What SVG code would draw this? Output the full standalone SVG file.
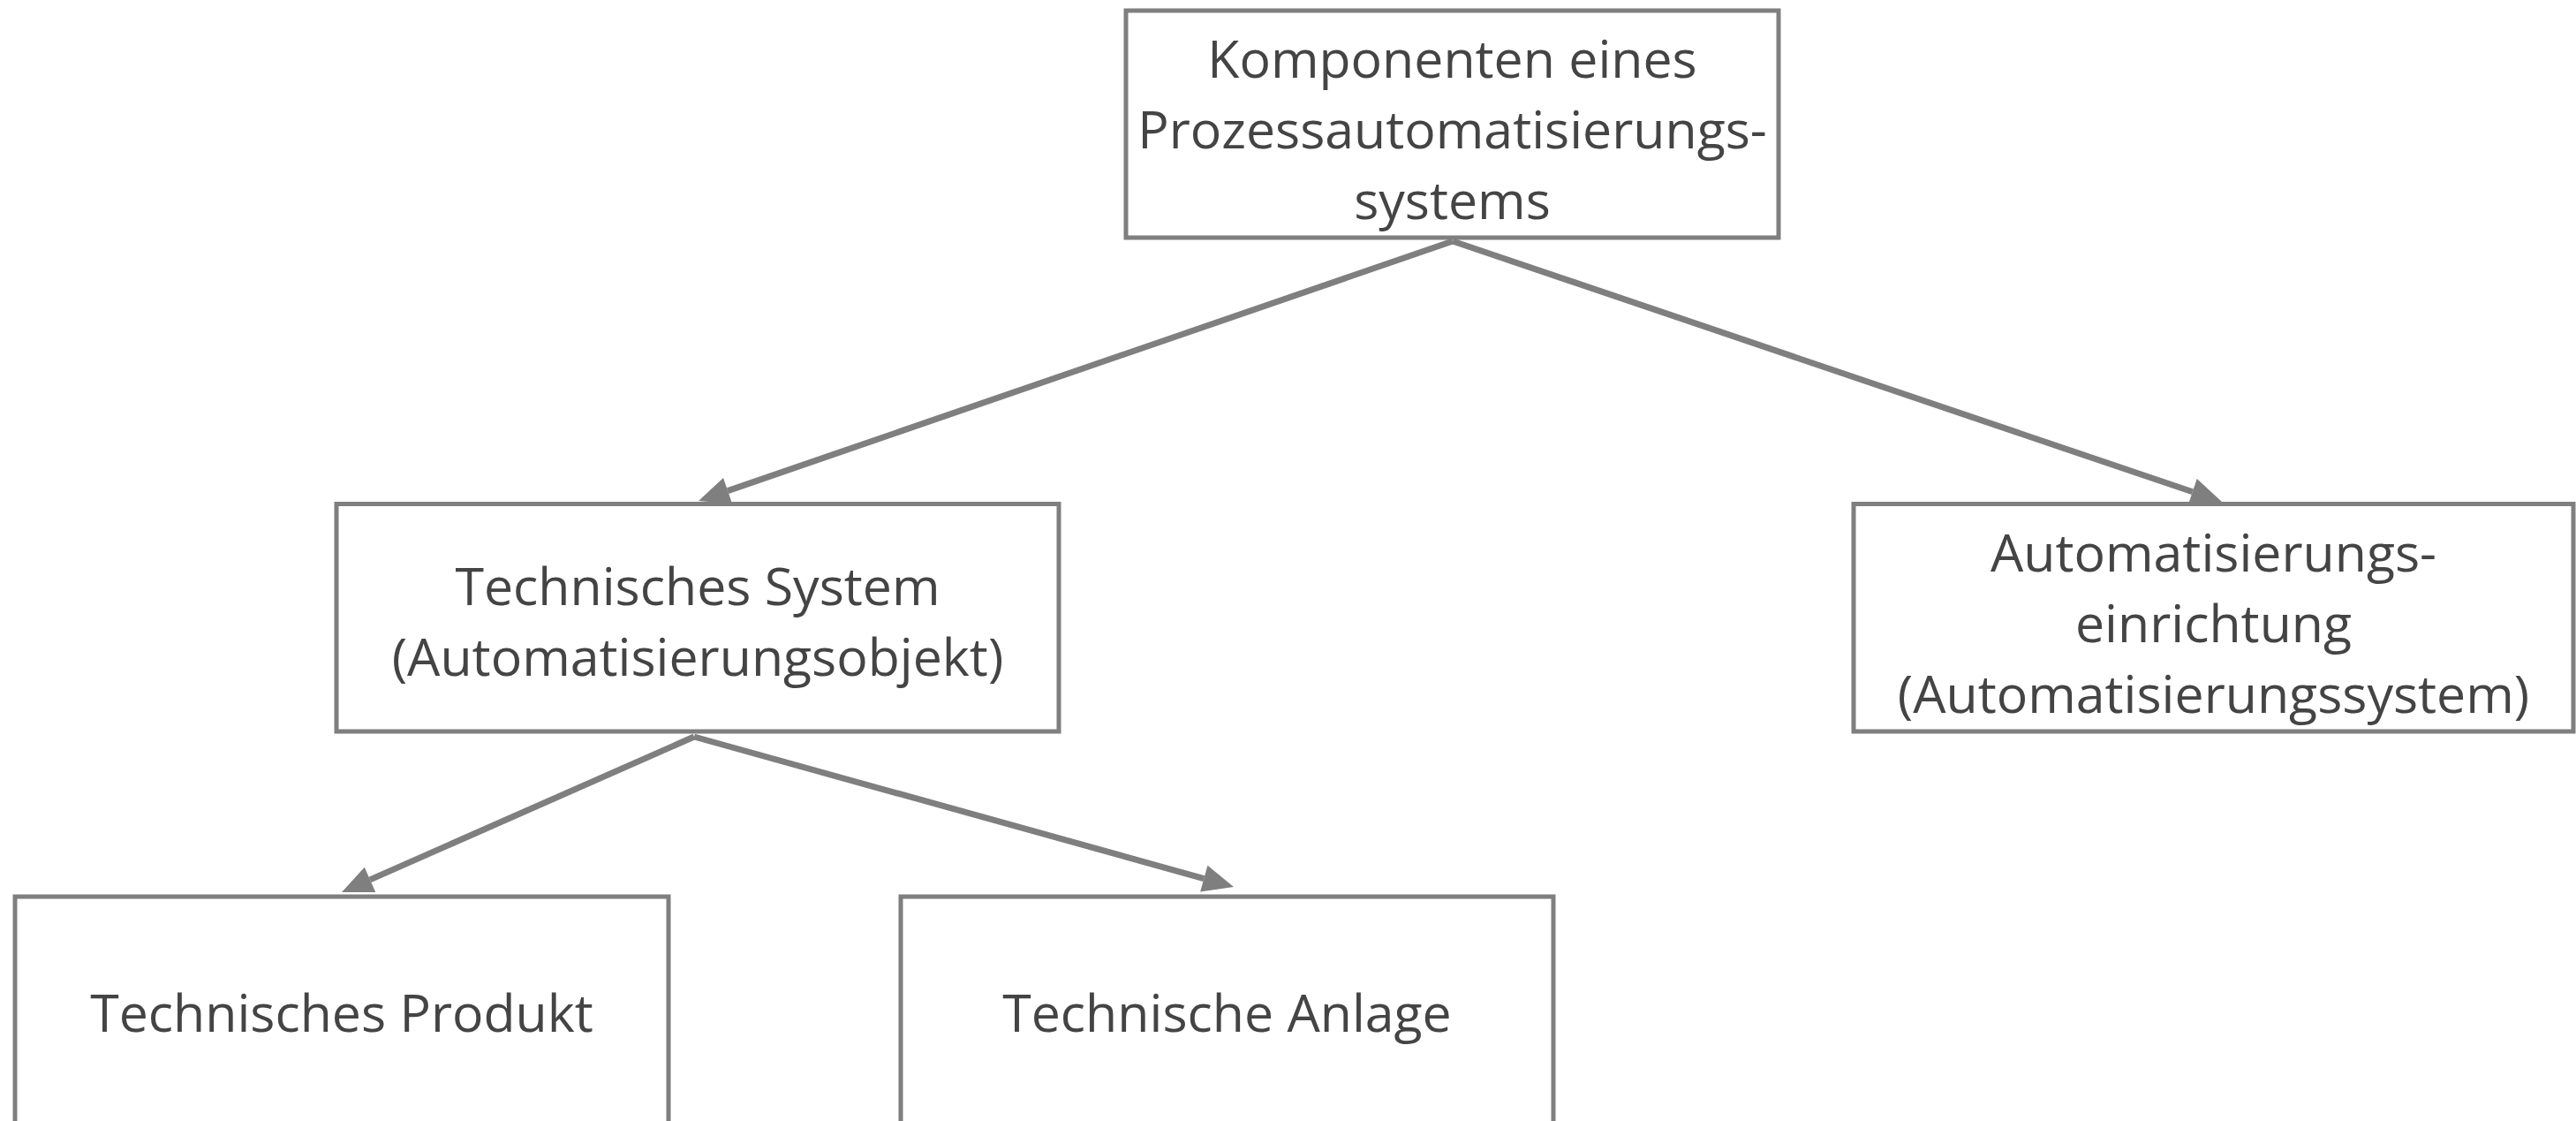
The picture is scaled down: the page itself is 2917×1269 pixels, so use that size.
<svg xmlns="http://www.w3.org/2000/svg" width="2917" height="1269" viewBox="0 0 2917 1269">
<style>
.box{fill:#ffffff;stroke:#7f7f7f;stroke-width:5}
.lbl{font-family:"Open Sans","Noto Sans","Liberation Sans",sans-serif;font-size:59px;fill:#444444;text-anchor:middle}
.conn{fill:none;stroke:#7f7f7f;stroke-width:7}
</style>
<defs>
<marker id="arr" markerUnits="userSpaceOnUse" markerWidth="36" markerHeight="32" refX="0" refY="15.5" orient="auto" overflow="visible">
<path d="M0,0 L35,15.5 L0,31 z" fill="#7f7f7f"/>
</marker>
</defs>
<rect width="2917" height="1269" fill="#ffffff"/>
<g id="connectors">
<path class="conn" d="M1645,273 L824.1,555.6" marker-end="url(#arr)"/>
<path class="conn" d="M1645,273 L2482.8,556.8" marker-end="url(#arr)"/>
<path class="conn" d="M786,834 L419,995.9" marker-end="url(#arr)"/>
<path class="conn" d="M786,834 L1363.3,994.6" marker-end="url(#arr)"/>
</g>
<g id="node-komponenten">
<rect class="box" x="1275" y="12" width="739" height="257"/>
<text class="lbl" x="1644.5" y="88">Komponenten eines</text>
<text class="lbl" x="1644.5" y="168">Prozessautomatisierungs-</text>
<text class="lbl" x="1644.5" y="248">systems</text>
</g>
<g id="node-technisches-system">
<rect class="box" x="381" y="570.5" width="818" height="257.5"/>
<text class="lbl" x="790" y="685">Technisches System</text>
<text class="lbl" x="790" y="765">(Automatisierungsobjekt)</text>
</g>
<g id="node-automatisierungseinrichtung">
<rect class="box" x="2099" y="570.5" width="815" height="257.5"/>
<text class="lbl" x="2506.5" y="647">Automatisierungs-</text>
<text class="lbl" x="2506.5" y="727">einrichtung</text>
<text class="lbl" x="2506.5" y="807">(Automatisierungssystem)</text>
</g>
<g id="node-technisches-produkt">
<rect class="box" x="17" y="1015" width="740" height="257"/>
<text class="lbl" x="387" y="1168">Technisches Produkt</text>
</g>
<g id="node-technische-anlage">
<rect class="box" x="1020" y="1015" width="739" height="257"/>
<text class="lbl" x="1389.5" y="1168">Technische Anlage</text>
</g>
</svg>
